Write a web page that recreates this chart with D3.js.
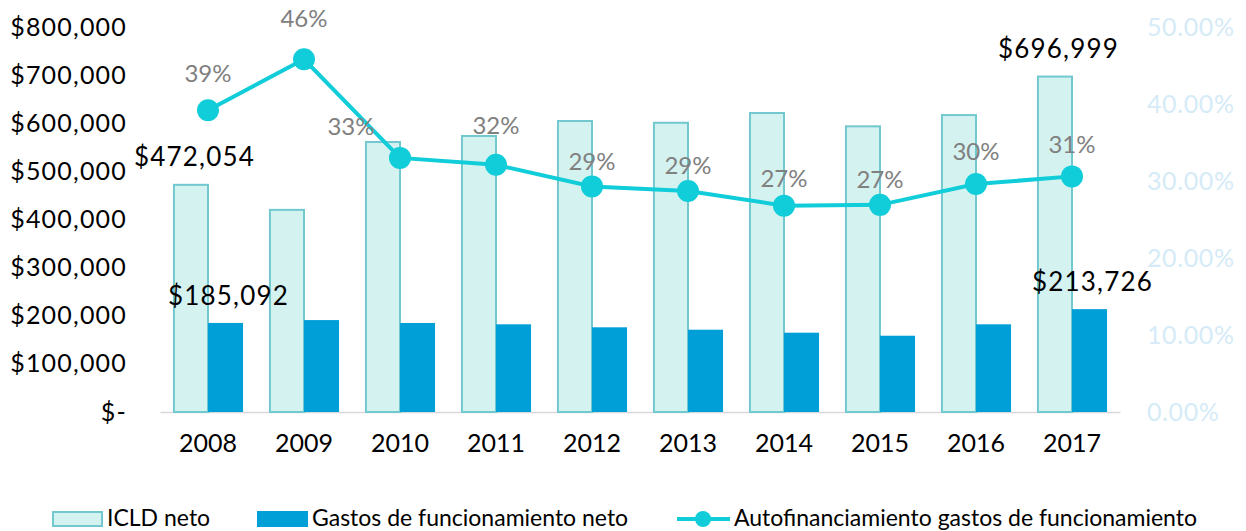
<!DOCTYPE html>
<html>
<head>
<meta charset="utf-8">
<script src="https://cdn.jsdelivr.net/npm/d3@7"></script>
<style>
  body { margin: 0; background: #fff; }
  svg text { font-family: "Lato", "DejaVu Sans", sans-serif; }
</style>
</head>
<body>
<svg width="1246" height="531"></svg>
<script>
// data
var years = ["2008", "2009", "2010", "2011", "2012", "2013", "2014", "2015", "2016", "2017"];
var icld = [472054, 420000, 561000, 573500, 604700, 601000, 621300, 593600, 617000, 696999];
var gastos = [185092, 191000, 185000, 182200, 176000, 171000, 164800, 158500, 182200, 213726];
var autofin = [0.392, 0.458, 0.330, 0.321, 0.293, 0.287, 0.268, 0.269, 0.296, 0.306];
var pctLabels = ["39%", "46%", "33%", "32%", "29%", "29%", "27%", "27%", "30%", "31%"];
var leftTicks = [0, 100000, 200000, 300000, 400000, 500000, 600000, 700000, 800000];
var rightTicks = [0, 0.1, 0.2, 0.3, 0.4, 0.5];

var svg = d3.select("svg"),
    margin = {top: 27, right: 126, bottom: 119, left: 160},
    width = +svg.attr("width") - margin.left - margin.right,
    height = +svg.attr("height") - margin.top - margin.bottom,
    g = svg.append("g").attr("transform", "translate(" + margin.left + "," + margin.top + ")");

var colIcld = "#d4f2f0", colIcldStroke = "#72c8cf", colGastos = "#009fd8", colLine = "#10cdd9";

var data = years.map((y, i) => ({year: y, icld: icld[i], gastos: gastos[i], pct: autofin[i], label: pctLabels[i]}));

// scales
var x = d3.scaleBand().domain(years).range([0, width]).paddingInner(0.27).paddingOuter(0.135);
var xs = d3.scaleBand().domain(["icld", "gastos"]).range([0, x.bandwidth()]);
var y = d3.scaleLinear().domain([0, 800000]).range([height, 0]);
var y2 = d3.scaleLinear().domain([0, 0.5]).range([height, 0]);

// left axis
var yAxis = g.append("g")
    .call(d3.axisLeft(y).tickValues(leftTicks).tickSize(0).tickPadding(33)
        .tickFormat(d => d === 0 ? "$-" : "$" + d3.format(",")(d)));
yAxis.select(".domain").remove();
yAxis.selectAll("text").attr("font-size", 25).attr("letter-spacing", 1.2)
    .attr("fill", "#000").attr("font-family", "Lato");

// right axis
var yAxis2 = g.append("g")
    .attr("transform", "translate(" + width + ",0)")
    .call(d3.axisRight(y2).tickValues(rightTicks).tickSize(0).tickPadding(27)
        .tickFormat(d3.format(".2%")));
yAxis2.select(".domain").remove();
yAxis2.selectAll("text").attr("font-size", 25).attr("letter-spacing", 0.6)
    .attr("fill", "#d5ebf7").attr("font-family", "Lato");

// x axis
var xAxis = g.append("g")
    .attr("transform", "translate(0," + height + ")")
    .call(d3.axisBottom(x).tickSize(0).tickPadding(22));
xAxis.select(".domain").attr("stroke", "#d9d9d9").attr("stroke-width", 1.5);
xAxis.selectAll("text").attr("font-size", 25).attr("fill", "#000").attr("font-family", "Lato");

// bars
var groups = g.selectAll(".year")
    .data(data)
    .enter().append("g")
    .attr("class", "year")
    .attr("transform", d => "translate(" + x(d.year) + ",0)");

groups.append("rect")
    .attr("x", xs("icld") + 1)
    .attr("y", d => y(d.icld))
    .attr("width", xs.bandwidth() - 1)
    .attr("height", d => height - y(d.icld))
    .attr("fill", colIcld)
    .attr("stroke", colIcldStroke)
    .attr("stroke-width", 2);

groups.append("rect")
    .attr("x", xs("gastos"))
    .attr("y", d => y(d.gastos))
    .attr("width", xs.bandwidth())
    .attr("height", d => height - y(d.gastos))
    .attr("fill", colGastos);

// value labels only for first and last year
var ends = [data[0], data[data.length - 1]];
g.selectAll(".lab-icld")
    .data(ends)
    .enter().append("text")
    .attr("x", d => x(d.year) + xs("icld") + xs.bandwidth() / 2 + 4)
    .attr("y", d => y(d.icld) - 19)
    .attr("text-anchor", "middle")
    .attr("font-size", 26)
    .attr("letter-spacing", 1.2)
    .attr("fill", "#000")
    .text(d => "$" + d3.format(",")(d.icld));

g.selectAll(".lab-gastos")
    .data(ends)
    .enter().append("text")
    .attr("x", d => x(d.year) + xs("gastos") + xs.bandwidth() / 2 + 3)
    .attr("y", d => y(d.gastos) - 18)
    .attr("text-anchor", "middle")
    .attr("font-size", 26)
    .attr("letter-spacing", 1.2)
    .attr("fill", "#000")
    .text(d => "$" + d3.format(",")(d.gastos));

// line
var cx = d => x(d.year) + x.bandwidth() / 2;
var line = d3.line().x(cx).y(d => y2(d.pct));

g.append("path")
    .datum(data)
    .attr("fill", "none")
    .attr("stroke", colLine)
    .attr("stroke-width", 4)
    .attr("d", line);

g.selectAll(".dot")
    .data(data)
    .enter().append("circle")
    .attr("cx", cx)
    .attr("cy", d => y2(d.pct))
    .attr("r", 11)
    .attr("fill", colLine);

// label placement as in the original (dragged by hand there)
var labelLift = {"2008": 36, "2009": 40, "2010": 31, "2011": 39, "2012": 24, "2013": 25,
                 "2014": 27, "2015": 25, "2016": 32, "2017": 31};
g.selectAll(".pct")
    .data(data)
    .enter().append("text")
    .attr("x", d => cx(d) + (d.year === "2010" ? -49 : 0))
    .attr("y", d => y2(d.pct) - labelLift[d.year] + 8)
    .attr("text-anchor", "middle")
    .attr("font-size", 24)
    .attr("fill", "#808080")
    .text(d => d.label);

// legend
var legend = svg.append("g").attr("transform", "translate(0,519)");
legend.append("rect").attr("x", 53).attr("y", -7).attr("width", 49).attr("height", 14)
    .attr("fill", colIcld).attr("stroke", colIcldStroke).attr("stroke-width", 2);
legend.append("text").attr("x", 107).attr("y", 7).attr("font-size", 23).text("ICLD neto");
legend.append("rect").attr("x", 257).attr("y", -8).attr("width", 51).attr("height", 16)
    .attr("fill", colGastos);
legend.append("text").attr("x", 312).attr("y", 7).attr("font-size", 23).text("Gastos de funcionamiento neto");
legend.append("line").attr("x1", 677).attr("x2", 730).attr("y1", 0).attr("y2", 0)
    .attr("stroke", colLine).attr("stroke-width", 4);
legend.append("circle").attr("cx", 703).attr("cy", 0).attr("r", 8).attr("fill", colLine);
legend.append("text").attr("x", 734).attr("y", 7).attr("font-size", 23).text("Autofinanciamiento gastos de funcionamiento");
</script>
</body>
</html>
